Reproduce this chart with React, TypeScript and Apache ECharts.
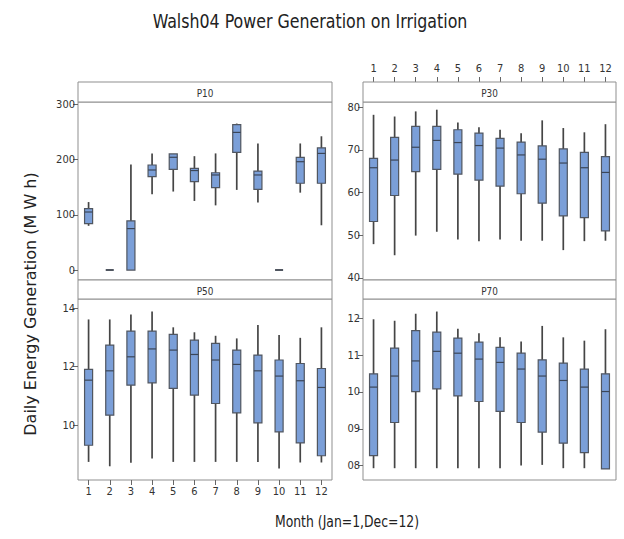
import React, { useEffect, useRef } from "react";
import * as echarts from "echarts";

// Months (category axis)
const months = ["1", "2", "3", "4", "5", "6", "7", "8", "9", "10", "11", "12"];

// Each entry: [min, Q1, median, Q3, max] per month
const p10 = [
  [80, 84, 105, 111, 123],
  [0, 0, 0, 0, 0],
  [0, 0, 75, 89, 191],
  [137, 169, 181, 190, 211],
  [142, 182, 204, 210, 210],
  [125, 160, 180, 184, 206],
  [117, 149, 172, 176, 211],
  [145, 213, 249, 263, 265],
  [122, 146, 172, 179, 229],
  [0, 0, 0, 0, 0],
  [140, 157, 196, 204, 229],
  [81, 157, 211, 221, 242],
];
const p30 = [
  [47.9, 53.2, 65.8, 68.0, 78.2],
  [45.3, 59.3, 67.6, 72.9, 77.8],
  [49.9, 64.9, 70.6, 75.5, 79.0],
  [50.8, 65.4, 72.2, 75.5, 79.4],
  [49.0, 64.3, 71.7, 74.7, 76.4],
  [48.6, 62.9, 71.0, 73.9, 75.3],
  [49.0, 61.5, 70.4, 72.7, 74.7],
  [48.7, 59.7, 68.8, 71.8, 73.9],
  [48.7, 57.5, 67.8, 70.9, 76.9],
  [46.5, 54.5, 66.9, 70.2, 75.1],
  [48.6, 54.1, 65.8, 69.4, 74.1],
  [48.7, 51.0, 64.7, 68.4, 76.0],
];
const p50 = [
  [8.74, 9.31, 11.54, 11.91, 13.62],
  [8.59, 10.34, 11.86, 12.74, 13.62],
  [8.71, 11.37, 12.34, 13.22, 13.79],
  [8.86, 11.45, 12.61, 13.22, 13.89],
  [8.74, 11.26, 12.57, 13.11, 13.35],
  [8.74, 11.03, 12.42, 12.91, 13.18],
  [8.74, 10.74, 12.23, 12.8, 13.06],
  [8.74, 10.42, 12.08, 12.57, 12.97],
  [8.74, 10.08, 11.86, 12.4, 13.43],
  [8.51, 9.77, 11.68, 12.23, 13.09],
  [8.72, 9.39, 11.52, 12.11, 12.99],
  [8.72, 8.95, 11.29, 11.94, 13.35],
];
const p70 = [
  [7.93, 8.27, 10.13, 10.49, 11.97],
  [7.93, 9.17, 10.43, 11.19, 11.93],
  [7.93, 10.01, 10.84, 11.66, 12.12],
  [7.93, 10.08, 11.1, 11.62, 12.18],
  [7.93, 9.89, 11.05, 11.46, 11.71],
  [7.93, 9.74, 10.89, 11.35, 11.59],
  [7.93, 9.47, 10.8, 11.21, 11.48],
  [8.0, 9.17, 10.62, 11.05, 11.37],
  [8.02, 8.91, 10.43, 10.87, 11.79],
  [7.93, 8.61, 10.31, 10.78, 11.48],
  [7.93, 8.35, 10.13, 10.62, 11.39],
  [7.91, 7.91, 10.01, 10.49, 11.7],
];

// Tick labels per panel
const p10Ticks = [0, 100, 200, 300];
const p30Ticks = [40, 50, 60, 70, 80];
const p50Ticks = [10, 12, 14];
const p70Ticks = [8, 9, 10, 11, 12];

const panelNames = ["P10", "P30", "P50", "P70"];
const titleText = "Walsh04 Power Generation on Irrigation";
const yName = "Daily Energy Generation (M W h)";
const xName = "Month (Jan=1,Dec=12)";

const NARROW = "'Liberation Sans Narrow','DejaVu Sans Condensed','Roboto Condensed',sans-serif";
const BORDER = "#8f8f8f";

export default function App() {
  const ref = useRef<HTMLDivElement>(null);
  useEffect(() => {
    if (!ref.current) return;
    const chart = echarts.init(ref.current, null, { renderer: "svg" });

    const grids = [
      { left: 78, top: 102, width: 254, height: 178 },
      { left: 363, top: 102, width: 253, height: 178 },
      { left: 78, top: 299, width: 254, height: 181 },
      { left: 363, top: 299, width: 253, height: 181 },
    ];
    const strips = [
      { x: 78, y: 82, w: 254, h: 20 },
      { x: 363, y: 82, w: 253, h: 20 },
      { x: 78, y: 280, w: 254, h: 19 },
      { x: 363, y: 280, w: 253, h: 19 },
    ];
    const ranges = [
      [-18, 304],
      [39.5, 81.2],
      [8.12, 14.32],
      [7.61, 12.52],
    ];
    const ticks = [p10Ticks, p30Ticks, p50Ticks, p70Ticks];
    const datasets = [p10, p30, p50, p70];

    const renderItem = (params: any, api: any) => {
      const x = api.value(0);
      const pMin = api.coord([x, api.value(1)]);
      const pQ1 = api.coord([x, api.value(2)]);
      const pMed = api.coord([x, api.value(3)]);
      const pQ3 = api.coord([x, api.value(4)]);
      const pMax = api.coord([x, api.value(5)]);
      const band = api.size([1, 0])[0];
      const w = band * 0.38;
      const cx = pMin[0];
      const flat = Math.abs(pQ1[1] - pQ3[1]) < 0.5;
      const children: any[] = [
        {
          type: "line",
          shape: { x1: cx, y1: pMax[1], x2: cx, y2: pMin[1] },
          style: { stroke: "#454545", lineWidth: 1.7 },
        },
        {
          type: "rect",
          shape: { x: cx - w / 2, y: pQ3[1], width: w, height: pQ1[1] - pQ3[1] },
          style: { fill: "#7b9fd8", stroke: "#505660", lineWidth: flat ? 2 : 1.2 },
        },
      ];
      if (!flat) {
        children.push({
          type: "line",
          shape: { x1: cx - w / 2, y1: pMed[1], x2: cx + w / 2, y2: pMed[1] },
          style: { stroke: "#3b4658", lineWidth: 1.2 },
        });
      }
      return { type: "group", children };
    };

    const labelStyle = { fontFamily: NARROW, fontSize: 11, color: "#333" };

    const option: any = {
      animation: false,
      grid: grids.map((g) => ({ ...g, show: true, borderColor: BORDER, borderWidth: 1, backgroundColor: "transparent" })),
      xAxis: grids.map((_, i) => {
        const showTop = i === 1;
        const showBottom = i === 2;
        const show = showTop || showBottom;
        return {
          type: "category",
          gridIndex: i,
          data: months,
          boundaryGap: true,
          position: showTop ? "top" : "bottom",
          offset: showTop ? 20 : 0,
          axisLine: { show: false },
          axisTick: { show, alignWithLabel: true, length: 5, lineStyle: { color: "#666" } },
          axisLabel: { show, margin: showTop ? 8 : 6, ...labelStyle },
          splitLine: { show: false },
        };
      }),
      yAxis: grids.map((_, i) => ({
        type: "value",
        gridIndex: i,
        min: ranges[i][0],
        max: ranges[i][1],
        axisLine: { show: false },
        axisTick: { show: true, length: 5, customValues: ticks[i], lineStyle: { color: "#666" } },
        axisLabel: {
          show: true,
          margin: 3,
          customValues: ticks[i],
          formatter: (v: number) => (i === 3 ? String(v).padStart(2, "0") : String(v)),
          ...labelStyle,
        },
        splitLine: { show: false },
      })),
      series: datasets.map((d, i) => ({
        type: "custom",
        xAxisIndex: i,
        yAxisIndex: i,
        renderItem,
        encode: { x: 0, y: [1, 2, 3, 4, 5] },
        data: d.map((row, j) => [months[j], ...row]),
        clip: true,
      })),
      graphic: [
        {
          type: "text",
          x: 310,
          y: 21,
          scaleX: 0.88,
          style: {
            text: titleText,
            fontFamily: NARROW,
            fontSize: 20,
            fill: "#222",
            align: "center",
            verticalAlign: "middle",
          },
        },
        ...strips.map((s) => ({
          type: "rect",
          shape: { x: s.x, y: s.y, width: s.w, height: s.h },
          style: { fill: "#fff", stroke: BORDER, lineWidth: 1 },
          z: 1,
        })),
        ...strips.map((s, i) => ({
          type: "text",
          x: s.x + s.w / 2,
          y: s.y + s.h / 2 + 1,
          scaleX: 0.9,
          style: {
            text: panelNames[i],
            fontFamily: NARROW,
            fontSize: 11,
            fill: "#333",
            align: "center",
            verticalAlign: "middle",
          },
          z: 2,
        })),
        {
          type: "text",
          x: 30,
          y: 304,
          rotation: Math.PI / 2,
          style: {
            text: yName,
            fontFamily: "'DejaVu Sans','Open Sans',sans-serif",
            fontSize: 16,
            fill: "#222",
            align: "center",
            verticalAlign: "middle",
          },
        },
        {
          type: "text",
          x: 347,
          y: 522,
          scaleX: 0.92,
          style: {
            text: xName,
            fontFamily: NARROW,
            fontSize: 15,
            fill: "#222",
            align: "center",
            verticalAlign: "middle",
          },
        },
      ],
    };
    chart.setOption(option);
    return () => chart.dispose();
  }, []);

  return (
    <div
      ref={ref}
      style={{ position: "fixed", left: 0, top: 0, width: 624, height: 539, background: "#fff" }}
    />
  );
}
